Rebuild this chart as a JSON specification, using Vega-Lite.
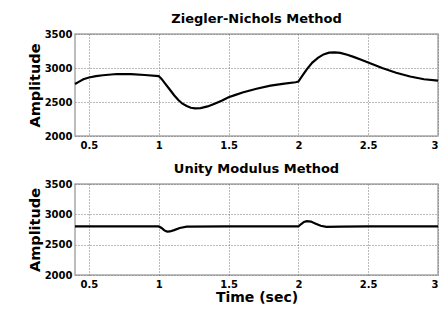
{
  "$schema": "https://vega.github.io/schema/vega-lite/v6.json",
  "padding": {"left": 26, "top": 12, "right": 0, "bottom": 0},
  "spacing": 11,
  "config": {
    "font": "DejaVu Sans",
    "view": {"stroke": "#a8a8a8", "strokeWidth": 1.5},
    "axis": {
      "labelFont": "DejaVu Sans", "labelFontWeight": "bold", "labelFontSize": 10, "labelColor": "#000",
      "titleFont": "DejaVu Sans", "titleFontWeight": "bold", "titleColor": "#000",
      "domain": false, "ticks": false,
      "gridColor": "#777", "gridDash": [1, 2], "gridWidth": 1, "gridOpacity": 1
    },
    "title": {"font": "DejaVu Sans", "fontWeight": "bold", "fontSize": 13, "color": "#000", "offset": 3}
  },
  "datasets": {
    "zn": [
      {"t": 0.40, "amp": 2765}, {"t": 0.43, "amp": 2800}, {"t": 0.46, "amp": 2835}, {"t": 0.50, "amp": 2860},
      {"t": 0.55, "amp": 2880}, {"t": 0.60, "amp": 2893}, {"t": 0.70, "amp": 2912}, {"t": 0.80, "amp": 2910},
      {"t": 0.90, "amp": 2897}, {"t": 1.00, "amp": 2880}, {"t": 1.02, "amp": 2840}, {"t": 1.05, "amp": 2760},
      {"t": 1.08, "amp": 2680}, {"t": 1.11, "amp": 2600}, {"t": 1.14, "amp": 2530}, {"t": 1.17, "amp": 2475},
      {"t": 1.20, "amp": 2440}, {"t": 1.23, "amp": 2415}, {"t": 1.26, "amp": 2405}, {"t": 1.30, "amp": 2410},
      {"t": 1.35, "amp": 2435}, {"t": 1.40, "amp": 2475}, {"t": 1.45, "amp": 2520}, {"t": 1.50, "amp": 2570},
      {"t": 1.55, "amp": 2605}, {"t": 1.60, "amp": 2640}, {"t": 1.70, "amp": 2695}, {"t": 1.80, "amp": 2740},
      {"t": 1.90, "amp": 2770}, {"t": 1.98, "amp": 2790}, {"t": 2.00, "amp": 2800}, {"t": 2.03, "amp": 2890},
      {"t": 2.06, "amp": 2980}, {"t": 2.10, "amp": 3080}, {"t": 2.14, "amp": 3150}, {"t": 2.18, "amp": 3200},
      {"t": 2.22, "amp": 3225}, {"t": 2.26, "amp": 3230}, {"t": 2.30, "amp": 3222}, {"t": 2.35, "amp": 3195},
      {"t": 2.40, "amp": 3160}, {"t": 2.45, "amp": 3120}, {"t": 2.50, "amp": 3080}, {"t": 2.55, "amp": 3040},
      {"t": 2.60, "amp": 3000}, {"t": 2.70, "amp": 2930}, {"t": 2.80, "amp": 2875}, {"t": 2.90, "amp": 2835},
      {"t": 3.00, "amp": 2815}
    ],
    "um": [
      {"t": 0.40, "amp": 2800}, {"t": 1.00, "amp": 2800}, {"t": 1.02, "amp": 2775}, {"t": 1.04, "amp": 2735},
      {"t": 1.06, "amp": 2715}, {"t": 1.08, "amp": 2718}, {"t": 1.11, "amp": 2740}, {"t": 1.15, "amp": 2775},
      {"t": 1.20, "amp": 2798}, {"t": 1.50, "amp": 2800}, {"t": 2.00, "amp": 2800}, {"t": 2.02, "amp": 2840},
      {"t": 2.04, "amp": 2875}, {"t": 2.06, "amp": 2888}, {"t": 2.09, "amp": 2880}, {"t": 2.12, "amp": 2850},
      {"t": 2.16, "amp": 2812}, {"t": 2.20, "amp": 2793}, {"t": 2.30, "amp": 2796}, {"t": 2.50, "amp": 2800},
      {"t": 3.00, "amp": 2800}
    ]
  },
  "vconcat": [
    {
      "title": "Ziegler-Nichols Method",
      "width": 363, "height": 102,
      "data": {"name": "zn"},
      "mark": {"type": "line", "color": "#000", "strokeWidth": 2.2},
      "encoding": {
        "x": {"field": "t", "type": "quantitative", "scale": {"domain": [0.4, 3], "nice": false, "zero": false},
              "axis": {"values": [0.5, 1, 1.5, 2, 2.5, 3], "format": "~g", "title": null, "labelPadding": 4}},
        "y": {"field": "amp", "type": "quantitative", "scale": {"domain": [2000, 3500], "nice": false, "zero": false},
              "axis": {"values": [2000, 2500, 3000, 3500], "format": "d", "title": "Amplitude", "titleFontSize": 14.5, "titlePadding": 2, "labelPadding": 3}}
      }
    },
    {
      "title": "Unity Modulus Method",
      "width": 363, "height": 91,
      "data": {"name": "um"},
      "mark": {"type": "line", "color": "#000", "strokeWidth": 2.2},
      "encoding": {
        "x": {"field": "t", "type": "quantitative", "scale": {"domain": [0.4, 3], "nice": false, "zero": false},
              "axis": {"values": [0.5, 1, 1.5, 2, 2.5, 3], "format": "~g", "title": "Time (sec)", "titleFontSize": 14, "titlePadding": 1, "labelPadding": 4}},
        "y": {"field": "amp", "type": "quantitative", "scale": {"domain": [2000, 3500], "nice": false, "zero": false},
              "axis": {"values": [2000, 2500, 3000, 3500], "format": "d", "title": "Amplitude", "titleFontSize": 14.5, "titlePadding": 2, "labelPadding": 3}}
      }
    }
  ]
}
